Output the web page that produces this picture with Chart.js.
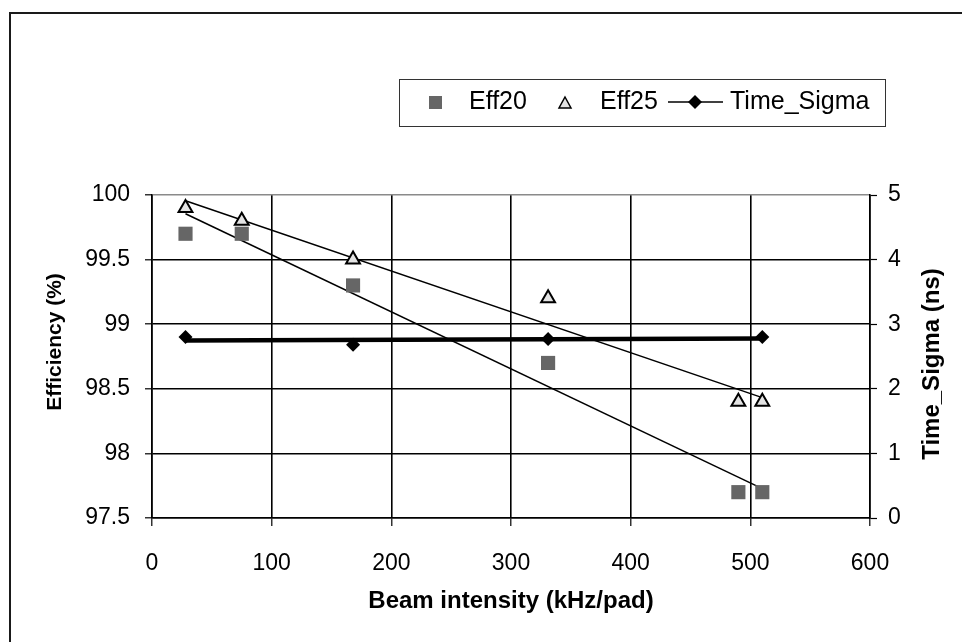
<!DOCTYPE html>
<html>
<head>
<meta charset="utf-8">
<script src="https://cdn.jsdelivr.net/npm/chart.js@4"></script>
<style>
  body { margin: 0; background: #fff; }
  #chart { display: block; }
</style>
</head>
<body>
<canvas id="chart" width="962" height="642"></canvas>
<script>
// values
const intensity = [28, 75, 168, 331, 490, 510];
const eff20 = [99.7, 99.7, 99.3, 98.7, 97.7, 97.7];
const eff25 = [99.9, 99.8, 99.5, 99.2, 98.4, 98.4];
const sigmaIntensity = [28, 168, 331, 510];
const timeSigma = [2.8, 2.68, 2.77, 2.8];

const xTicks = [0, 100, 200, 300, 400, 500, 600];
const effTicks = [97.5, 98, 98.5, 99, 99.5, 100];
const sigmaTicks = [0, 1, 2, 3, 4, 5];

const FONT = '"Liberation Sans", Arial, sans-serif';

function points(xs, ys) {
    return xs.map((x, i) => ({ x: x, y: ys[i] }));
}

// linear trend line (least squares), from first to last x
function trend(xs, ys) {
    const n = xs.length;
    const mx = xs.reduce((a, b) => a + b, 0) / n;
    const my = ys.reduce((a, b) => a + b, 0) / n;
    let sxy = 0, sxx = 0;
    xs.forEach((x, i) => {
        sxy += (x - mx) * (ys[i] - my);
        sxx += (x - mx) * (x - mx);
    });
    const k = sxy / sxx;
    const x0 = xs[0], x1 = xs[n - 1];
    return [{ x: x0, y: my + k * (x0 - mx) }, { x: x1, y: my + k * (x1 - mx) }];
}

const decor = {
    id: 'decor',
    beforeDraw(chart) {
        const ctx = chart.ctx;
        ctx.save();
        ctx.fillStyle = '#fff';
        ctx.fillRect(0, 0, chart.width, chart.height);
        ctx.restore();
    },
    afterDraw(chart) {
        const ctx = chart.ctx;
        ctx.save();

        // outer frame
        ctx.strokeStyle = '#1a1a1a';
        ctx.lineWidth = 2;
        ctx.beginPath();
        ctx.moveTo(10, 642);
        ctx.lineTo(10, 13);
        ctx.lineTo(962, 13);
        ctx.stroke();

        // legend box
        ctx.lineWidth = 1;
        ctx.strokeStyle = '#333';
        ctx.strokeRect(399.5, 79.5, 486, 47);

        const ds = chart.data.datasets;
        ctx.font = '25px ' + FONT;
        ctx.fillStyle = '#000';
        ctx.textBaseline = 'middle';
        ctx.textAlign = 'left';

        // Eff20
        ctx.fillStyle = ds[0].backgroundColor;
        ctx.fillRect(429, 96, 13, 13);
        ctx.fillStyle = '#000';
        ctx.fillText(ds[0].label, 469, 102);

        // Eff25
        ctx.beginPath();
        ctx.moveTo(565, 97);
        ctx.lineTo(571, 108);
        ctx.lineTo(559, 108);
        ctx.closePath();
        ctx.fillStyle = ds[1].backgroundColor;
        ctx.fill();
        ctx.lineWidth = 1.5;
        ctx.strokeStyle = '#000';
        ctx.stroke();
        ctx.fillStyle = '#000';
        ctx.fillText(ds[1].label, 600, 102);

        // Time_Sigma
        ctx.lineWidth = 1.5;
        ctx.beginPath();
        ctx.moveTo(668, 102);
        ctx.lineTo(723, 102);
        ctx.stroke();
        ctx.beginPath();
        ctx.moveTo(695, 95);
        ctx.lineTo(702, 102);
        ctx.lineTo(695, 109);
        ctx.lineTo(688, 102);
        ctx.closePath();
        ctx.fill();
        ctx.fillText(ds[2].label, 730, 102);

        // axis titles
        ctx.textAlign = 'center';
        ctx.font = 'bold 24px ' + FONT;
        ctx.fillText('Beam intensity (kHz/pad)', 511, 601);

        ctx.save();
        ctx.translate(55, 342);
        ctx.rotate(-Math.PI / 2);
        ctx.font = 'bold 21px ' + FONT;
        ctx.fillText('Efficiency (%)', 0, 0);
        ctx.restore();

        ctx.save();
        ctx.translate(932, 364);
        ctx.rotate(-Math.PI / 2);
        ctx.font = 'bold 24px ' + FONT;
        ctx.fillText('Time_Sigma (ns)', 0, 0);
        ctx.restore();

        ctx.restore();
    }
};

const ctx = document.getElementById('chart').getContext('2d');
new Chart(ctx, {
    type: 'scatter',
    data: {
        datasets: [
            {
                label: 'Eff20',
                data: points(intensity, eff20),
                yAxisID: 'y',
                pointStyle: 'rect',
                pointRadius: 10,
                backgroundColor: '#666666',
                borderColor: '#666666',
                borderWidth: 0
            },
            {
                label: 'Eff25',
                data: points(intensity, eff25),
                yAxisID: 'y',
                pointStyle: 'triangle',
                pointRadius: 8,
                backgroundColor: '#e4e4e4',
                borderColor: '#000',
                borderWidth: 2
            },
            {
                label: 'Time_Sigma',
                data: points(sigmaIntensity, timeSigma),
                yAxisID: 'y2',
                pointStyle: 'rectRot',
                pointRadius: 7,
                backgroundColor: '#000',
                borderColor: '#000',
                borderWidth: 0
            },
            {
                label: 'Eff20 trend',
                data: trend(intensity, eff20),
                yAxisID: 'y',
                showLine: true,
                pointRadius: 0,
                borderColor: '#000',
                borderWidth: 1.5
            },
            {
                label: 'Eff25 trend',
                data: trend(intensity, eff25),
                yAxisID: 'y',
                showLine: true,
                pointRadius: 0,
                borderColor: '#000',
                borderWidth: 1.5
            },
            {
                label: 'Time_Sigma trend',
                data: trend(sigmaIntensity, timeSigma),
                yAxisID: 'y2',
                showLine: true,
                pointRadius: 0,
                borderColor: '#000',
                borderWidth: 4.5
            }
        ]
    },
    options: {
        responsive: false,
        animation: false,
        layout: { padding: { top: 195, left: 0, right: 0, bottom: 0 } },
        plugins: {
            legend: { display: false },
            tooltip: { enabled: false }
        },
        scales: {
            x: {
                type: 'linear',
                position: 'bottom',
                min: xTicks[0],
                max: xTicks[xTicks.length - 1],
                ticks: {
                    stepSize: xTicks[1] - xTicks[0],
                    color: '#000',
                    font: { family: FONT, size: 23 },
                    padding: 24,
                    maxRotation: 0
                },
                grid: { color: '#000', lineWidth: 1.6, tickLength: 8, tickColor: '#000', tickWidth: 1.2 },
                border: { color: '#000', width: 1.6 },
                afterFit: s => { s.height = 124; }
            },
            y: {
                position: 'left',
                min: effTicks[0],
                max: effTicks[effTicks.length - 1],
                ticks: {
                    stepSize: effTicks[1] - effTicks[0],
                    color: '#000',
                    font: { family: FONT, size: 23 },
                    padding: 15,
                    callback: v => String(v)
                },
                grid: {
                    color: c => (c.tick && c.tick.value === effTicks[effTicks.length - 1]) ? '#8a8a8a' : '#000',
                    lineWidth: 1.6,
                    tickLength: 7,
                    tickColor: '#000',
                    tickWidth: 1.2
                },
                border: { color: '#000', width: 1.6 },
                afterFit: s => { s.width = 152; }
            },
            y2: {
                position: 'right',
                min: sigmaTicks[0],
                max: sigmaTicks[sigmaTicks.length - 1],
                ticks: {
                    stepSize: sigmaTicks[1] - sigmaTicks[0],
                    color: '#000',
                    font: { family: FONT, size: 23 },
                    padding: 11
                },
                grid: { drawOnChartArea: false, tickLength: 7, tickColor: '#000', tickWidth: 1.2 },
                border: { color: '#000', width: 1.6 },
                afterFit: s => { s.width = 92; }
            }
        }
    },
    plugins: [decor]
});
</script>
</body>
</html>
